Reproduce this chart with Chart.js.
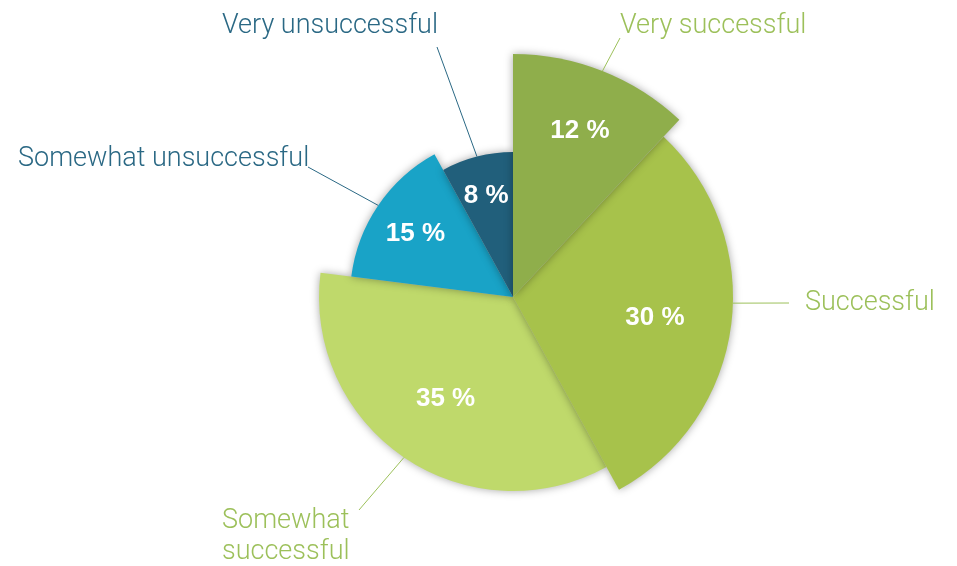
<!DOCTYPE html>
<html>
<head>
<meta charset="utf-8">
<script src="https://cdn.jsdelivr.net/npm/chart.js@4/dist/chart.umd.min.js"></script>
<style>
  html, body { margin: 0; padding: 0; background: #fff; }
  #wrap { width: 957px; height: 566px; position: relative; }
</style>
</head>
<body>
<div id="wrap"><canvas id="pie"></canvas></div>
<script>
// data
const categories = ['Very successful', 'Successful', 'Somewhat successful', 'Somewhat unsuccessful', 'Very unsuccessful'];
const shares = [12, 30, 35, 15, 8];
const valueLabels = shares.map(v => v + ' %');

// styling
const sliceColors = ['#8fae4b', '#a7c24b', '#bfd96b', '#19a3c7', '#215f7b'];
const sliceRadius = [243, 220, 194, 163, 145];   // each slice has its own radius
const valueDist   = [182, 143, 120, 118, 108];   // where the % text sits
const drawOrder   = [2, 3, 4, 1, 0];             // later ones overlap earlier ones
const GREEN_TXT = '#9cc05a';
const TEAL_TXT  = '#2a6884';

// outside labels: text lines, text position, where the leader line ends
// (at = angle in degrees from 12 o'clock where the line leaves the slice, default mid)
const outside = [
  { lines: ['Very successful'],        x: 620, y: 33,  end: [620, 38],  color: GREEN_TXT },
  { lines: ['Successful'],             x: 805, y: 310, end: [789, 303], color: GREEN_TXT, at: 91.6 },
  { lines: ['Somewhat', 'successful'], x: 222, y: 528, end: [359, 510], color: GREEN_TXT },
  { lines: ['Somewhat unsuccessful'],  x: 18,  y: 166, end: [308, 167], color: TEAL_TXT },
  { lines: ['Very unsuccessful'],      x: 222, y: 33,  end: [437, 47],  color: TEAL_TXT },
];

const radiusPlugin = {
  id: 'sliceRadius',
  afterDatasetsUpdate(chart) {
    chart.getDatasetMeta(0).data.forEach((arc, i) => {
      arc.outerRadius = sliceRadius[i];
    });
  },
  beforeDatasetDraw(chart) {
    const ctx = chart.ctx;
    const arcs = chart.getDatasetMeta(0).data;
    ctx.save();
    ctx.shadowColor = 'rgba(0,0,0,0.35)';
    ctx.shadowBlur = 9;
    drawOrder.forEach(i => arcs[i].draw(ctx));
    ctx.restore();
    return false;
  }
};

const labelPlugin = {
  id: 'pieLabels',
  afterDraw(chart) {
    const ctx = chart.ctx;
    const arcs = chart.getDatasetMeta(0).data;
    ctx.save();
    // values inside
    ctx.fillStyle = '#fff';
    ctx.font = 'bold 26px "Liberation Sans", Arial, sans-serif';
    ctx.textAlign = 'center';
    ctx.textBaseline = 'middle';
    arcs.forEach((arc, i) => {
      const mid = (arc.startAngle + arc.endAngle) / 2;
      ctx.fillText(valueLabels[i], arc.x + Math.cos(mid) * valueDist[i], arc.y + Math.sin(mid) * valueDist[i] + 3);
    });
    // category labels with leader lines
    ctx.textAlign = 'left';
    ctx.textBaseline = 'alphabetic';
    ctx.font = '300 27px Roboto, "Open Sans", sans-serif';
    arcs.forEach((arc, i) => {
      const o = outside[i];
      const a = o.at !== undefined ? (o.at - 90) * Math.PI / 180 : (arc.startAngle + arc.endAngle) / 2;
      const r = arc.outerRadius;
      ctx.strokeStyle = o.color;
      ctx.lineWidth = 1;
      ctx.beginPath();
      ctx.moveTo(arc.x + Math.cos(a) * r, arc.y + Math.sin(a) * r);
      ctx.lineTo(o.end[0], o.end[1]);
      ctx.stroke();
      ctx.fillStyle = o.color;
      o.lines.forEach((t, k) => ctx.fillText(t, o.x, o.y + k * 31));
    });
    ctx.restore();
  }
};

new Chart(document.getElementById('pie'), {
  type: 'pie',
  data: {
    labels: categories,
    datasets: [{
      data: shares,
      backgroundColor: sliceColors,
      borderWidth: 0,
    }]
  },
  options: {
    responsive: true,
    maintainAspectRatio: false,
    animation: false,
    layout: { padding: { left: 100, right: 31, top: 60, bottom: 32 } },
    plugins: {
      legend: { display: false },
      tooltip: { enabled: false },
    }
  },
  plugins: [radiusPlugin, labelPlugin]
});
</script>
</body>
</html>
